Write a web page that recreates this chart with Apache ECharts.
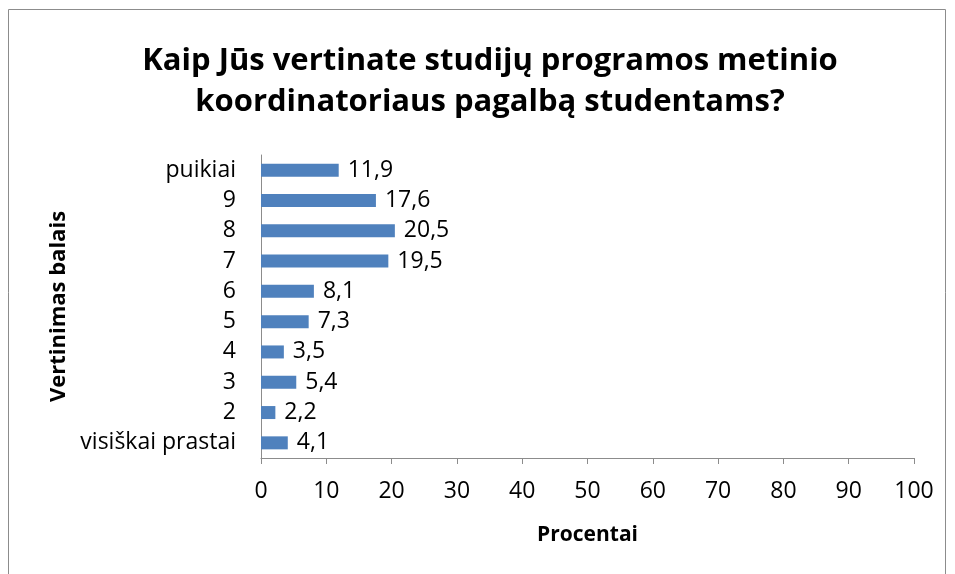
<!DOCTYPE html>
<html>
<head>
<meta charset="utf-8">
<script src="https://cdn.jsdelivr.net/npm/echarts@6/dist/echarts.min.js"></script>
<style>
  html, body { margin: 0; padding: 0; background: #fff; }
  #main { width: 955px; height: 574px; }
</style>
</head>
<body>
<div id="main"></div>
<script>
// duomenys
var categories = ["visiškai prastai", "2", "3", "4", "5", "6", "7", "8", "9", "puikiai"];
var values = [4.1, 2.2, 5.4, 3.5, 7.3, 8.1, 19.5, 20.5, 17.6, 11.9];
var xTicks = [0, 10, 20, 30, 40, 50, 60, 70, 80, 90, 100];

var font = "'Open Sans', 'Noto Sans', sans-serif";
var chart = echarts.init(document.getElementById("main"));

var option = {
  animation: false,
  title: {
    text: "Kaip Jūs vertinate studijų programos metinio\nkoordinatoriaus pagalbą studentams?",
    left: 485,
    top: 36,
    textAlign: "center",
    textStyle: {
      fontFamily: font,
      fontWeight: "bold",
      fontSize: 31,
      lineHeight: 41,
      color: "#000"
    }
  },
  graphic: [
    {
      type: "rect",
      shape: { x: 8.5, y: 9.5, width: 937, height: 580 },
      style: { fill: "none", stroke: "#8c8c8c", lineWidth: 1 },
      silent: true
    }
  ],
  grid: { left: 261, right: 41, top: 155, bottom: 116 },
  xAxis: {
    type: "value",
    min: xTicks[0],
    max: xTicks[xTicks.length - 1],
    interval: 10,
    name: "Procentai",
    nameLocation: "middle",
    nameGap: 67,
    nameTextStyle: { fontFamily: font, fontWeight: "bold", fontSize: 21, color: "#000" },
    splitLine: { show: false },
    axisLine: { show: true, lineStyle: { color: "#8c8c8c", width: 1 } },
    axisTick: { show: true, length: 6, lineStyle: { color: "#8c8c8c" } },
    axisLabel: { fontFamily: font, fontSize: 23, color: "#000", margin: 22 }
  },
  yAxis: {
    type: "category",
    data: categories,
    name: "Vertinimas balais",
    nameLocation: "middle",
    nameGap: 190,
    nameRotate: 90,
    nameTextStyle: { fontFamily: font, fontWeight: "bold", fontSize: 22, color: "#000" },
    axisLine: { show: true, lineStyle: { color: "#8c8c8c", width: 1 } },
    axisTick: { show: false },
    axisLabel: { fontFamily: font, fontSize: 23, color: "#000", margin: 25 }
  },
  series: [
    {
      type: "bar",
      data: values,
      barWidth: 13,
      itemStyle: { color: "#4f81bd" },
      label: {
        show: true,
        position: "right",
        distance: 9,
        fontFamily: font,
        fontSize: 23,
        color: "#000",
        formatter: function (p) {
          return String(p.value).replace(".", ",");
        }
      }
    }
  ]
};

chart.setOption(option);
</script>
</body>
</html>
